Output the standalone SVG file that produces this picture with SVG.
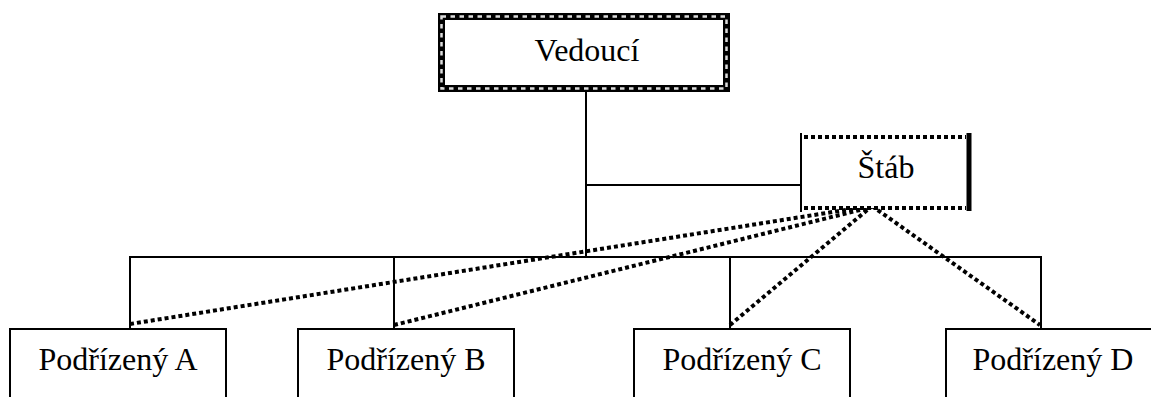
<svg xmlns="http://www.w3.org/2000/svg" width="1151" height="397" viewBox="0 0 1151 397">
  <style>
    .lbl { font-family: "Liberation Serif", "Times New Roman", serif; font-size: 32px; fill: #000; text-anchor: middle; }
    .box { fill: #fff; stroke: #000; stroke-width: 2; }
    .line { stroke: #000; stroke-width: 2; fill: none; }
    .staff { stroke: #000; stroke-width: 4; stroke-dasharray: 4 3; fill: none; }
    .dots { stroke: #000; stroke-width: 4; stroke-dasharray: 4 3; fill: none; }
  </style>

  <!-- line of command -->
  <g id="connectors">
    <line class="line" x1="586" y1="92" x2="586" y2="257"/>
    <line class="line" x1="586" y1="185" x2="801" y2="185"/>
    <line class="line" x1="129" y1="257" x2="1042" y2="257"/>
    <line class="line" x1="130" y1="257" x2="130" y2="329"/>
    <line class="line" x1="394" y1="257" x2="394" y2="329"/>
    <line class="line" x1="730" y1="257" x2="730" y2="329"/>
    <line class="line" x1="1041" y1="257" x2="1041" y2="329"/>
    <!-- staff links -->
    <line class="staff" x1="130" y1="324" x2="864" y2="207"/>
    <line class="staff" x1="394" y1="325" x2="868" y2="208"/>
    <line class="staff" x1="730" y1="325" x2="872" y2="206"/>
    <line class="staff" x1="872" y1="206" x2="1040" y2="325"/>
  </g>

  <g id="vedouci">
    <rect x="441.5" y="16.5" width="285" height="72" fill="#fff" stroke="#000" stroke-width="7"/>
    <rect x="441.5" y="16.5" width="285" height="72" fill="none" stroke="#ddd" stroke-width="2.5" stroke-dasharray="4.5 4.5"/>
    <text class="lbl" x="587" y="61">Vedoucí</text>
  </g>

  <g id="stab">
    <rect x="801" y="135" width="168" height="73" fill="#fff"/>
    <line class="dots" x1="804" y1="137" x2="966" y2="137"/>
    <line class="dots" x1="804" y1="208" x2="966" y2="208"/>
    <line class="line" x1="801" y1="133" x2="801" y2="212"/>
    <line x1="969" y1="133" x2="969" y2="211" stroke="#000" stroke-width="5"/>
    <text class="lbl" x="886" y="178">Štáb</text>
  </g>

  <g id="podrizeny-a">
    <rect class="box" x="10" y="329" width="216" height="90"/>
    <text class="lbl" x="118" y="370">Podřízený A</text>
  </g>
  <g id="podrizeny-b">
    <rect class="box" x="298" y="329" width="216" height="90"/>
    <text class="lbl" x="406" y="370">Podřízený B</text>
  </g>
  <g id="podrizeny-c">
    <rect class="box" x="634" y="329" width="216" height="90"/>
    <text class="lbl" x="742" y="370">Podřízený C</text>
  </g>
  <g id="podrizeny-d">
    <rect class="box" x="946" y="329" width="216" height="90"/>
    <text class="lbl" x="1053" y="370">Podřízený D</text>
  </g>
</svg>
